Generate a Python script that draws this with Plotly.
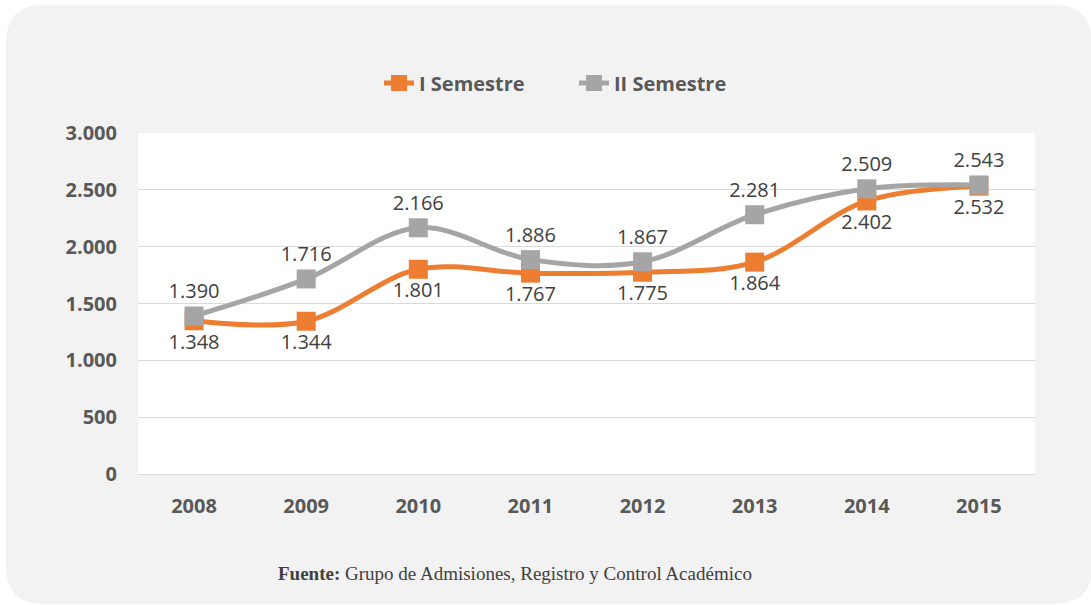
import plotly.graph_objects as go

years = ["2008", "2009", "2010", "2011", "2012", "2013", "2014", "2015"]
sem1 = [1348, 1344, 1801, 1767, 1775, 1864, 2402, 2532]
sem2 = [1390, 1716, 2166, 1886, 1867, 2281, 2509, 2543]
yticks = [0, 500, 1000, 1500, 2000, 2500, 3000]

ORANGE = "#ED7D31"
GRAY = "#A5A5A5"
W, H = 1091, 605
L, R, T, B = 138, 56, 133, 131
PW, PH = W - L - R, H - T - B


def fmt(v):
    return f"{v:,}".replace(",", ".")


def px(x):
    return (x - L) / PW


def py(y):
    return (H - B - y) / PH


fig = go.Figure()
fig.add_trace(go.Scatter(
    x=years, y=sem1, name="I Semestre", mode="lines+markers+text",
    line=dict(color=ORANGE, width=5, shape="spline", smoothing=1),
    marker=dict(symbol="square", size=19, color=ORANGE),
    text=[fmt(v) for v in sem1], textposition="bottom center",
    textfont=dict(family="Open Sans", size=20, color="#404040"),
))
fig.add_trace(go.Scatter(
    x=years, y=sem2, name="II Semestre", mode="lines+markers+text",
    line=dict(color=GRAY, width=5, shape="spline", smoothing=1),
    marker=dict(symbol="square", size=19, color=GRAY),
    text=[fmt(v) for v in sem2], textposition="top center",
    textfont=dict(family="Open Sans", size=20, color="#404040"),
))

# rounded background panel
x0, x1, y0, y1, r = 6, 1092, 5, 604, 38
path = (
    f"M {px(x0 + r)} {py(y0)} L {px(x1 - r)} {py(y0)} "
    f"Q {px(x1)} {py(y0)} {px(x1)} {py(y0 + r)} "
    f"L {px(x1)} {py(y1 - r)} Q {px(x1)} {py(y1)} {px(x1 - r)} {py(y1)} "
    f"L {px(x0 + r)} {py(y1)} Q {px(x0)} {py(y1)} {px(x0)} {py(y1 - r)} "
    f"L {px(x0)} {py(y0 + r)} Q {px(x0)} {py(y0)} {px(x0 + r)} {py(y0)} Z"
)
fig.add_shape(type="path", path=path, xref="paper", yref="paper",
              fillcolor="#F2F2F2", line=dict(width=0), layer="below")
fig.add_shape(type="rect", x0=0, x1=1, y0=0, y1=1, xref="paper", yref="paper",
              fillcolor="white", line=dict(width=0), layer="below")

fig.add_annotation(
    x=px(515), y=py(586), xref="paper", yref="paper", showarrow=False,
    text="<b>Fuente:</b> Grupo de Admisiones, Registro y Control Académico",
    font=dict(family="Liberation Serif", size=19, color="#404040"),
)

fig.update_layout(
    width=W, height=H,
    margin=dict(l=L, r=R, t=T, b=B),
    paper_bgcolor="white", plot_bgcolor="white",
    separators=",.",
    showlegend=True,
    legend=dict(orientation="h", x=px(574), xanchor="center", y=py(83), yanchor="middle",
                font=dict(family="Open Sans", size=20, color="#595959", weight="bold"),
                bgcolor="rgba(0,0,0,0)", entrywidth=150, entrywidthmode="pixels"),
    xaxis=dict(range=[-0.5, 7.5], showgrid=False, zeroline=False, showline=False,
               tickfont=dict(family="Open Sans", size=20, color="#595959", weight="bold"),
               ticklabelstandoff=18, fixedrange=True),
    yaxis=dict(range=[0, 3000], tickvals=yticks, ticktext=[fmt(v) for v in yticks],
               showgrid=True, gridcolor="#D9D9D9", gridwidth=1.3,
               zeroline=True, zerolinecolor="#D9D9D9", zerolinewidth=1.3, showline=False,
               tickfont=dict(family="Open Sans", size=20, color="#595959", weight="bold"),
               ticklabelstandoff=20, fixedrange=True),
)

fig.write_html("out.html", config={"displayModeBar": False},
               post_script="document.body.style.margin='0';")
